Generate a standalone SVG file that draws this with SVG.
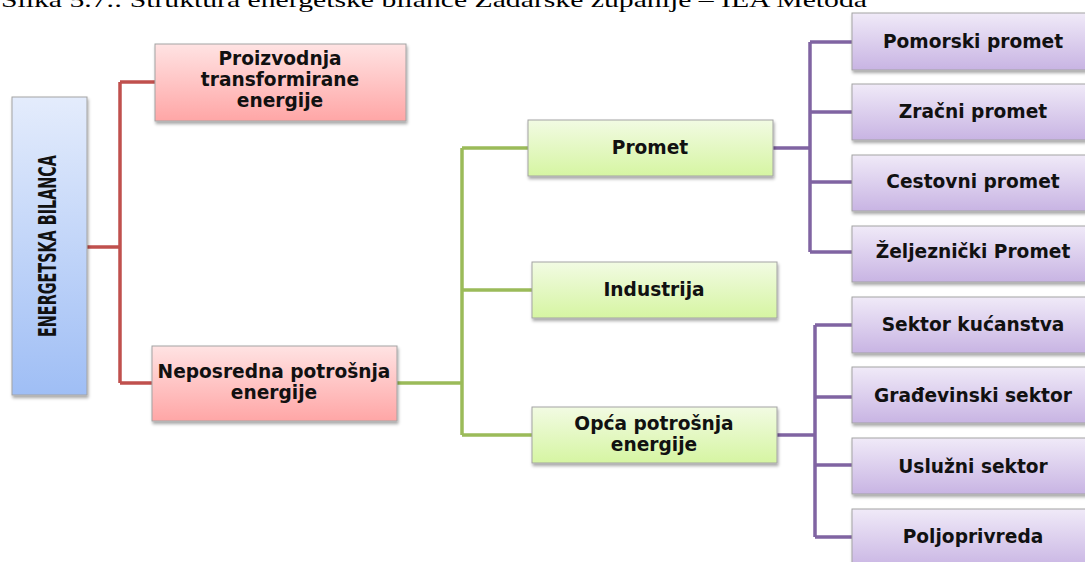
<svg xmlns="http://www.w3.org/2000/svg" width="1085" height="562" viewBox="0 0 1085 562">
<style>
.box{stroke:#a3a3a3;stroke-width:1;filter:url(#sh)}
.t{font-family:"DejaVu Sans","Verdana",sans-serif;font-weight:bold;font-size:18.6px;fill:#111;text-anchor:middle}
.red{fill:none;stroke:#c0504d;stroke-width:3.5}
.grn{fill:none;stroke:#9bbb59;stroke-width:3.5}
.pur{fill:none;stroke:#8064a2;stroke-width:3.5}
</style>
<defs>
<linearGradient id="gB" x1="0" y1="0" x2="0" y2="1"><stop offset="0" stop-color="#e4ecfc"/><stop offset="1" stop-color="#9fbef5"/></linearGradient>
<linearGradient id="gR" x1="0" y1="0" x2="0" y2="1"><stop offset="0" stop-color="#ffe3e3"/><stop offset="1" stop-color="#ffa6a6"/></linearGradient>
<linearGradient id="gG" x1="0" y1="0" x2="0" y2="1"><stop offset="0" stop-color="#f2fbe3"/><stop offset="1" stop-color="#d6f5a2"/></linearGradient>
<linearGradient id="gP" x1="0" y1="0" x2="0" y2="1"><stop offset="0" stop-color="#f0eaf8"/><stop offset="1" stop-color="#c8b4e3"/></linearGradient>
<filter id="sh" x="-10%" y="-10%" width="130%" height="140%"><feDropShadow dx="1" dy="2.5" stdDeviation="1.5" flood-color="#000" flood-opacity="0.35"/></filter>
</defs>
<rect width="1085" height="562" fill="#fff"/>
<text x="1" y="7" font-family="Liberation Serif,serif" font-size="22" fill="#000" textLength="866" lengthAdjust="spacingAndGlyphs">Slika 5.7.: Struktura energetske bilance Zadarske županije – IEA Metoda</text>
<g id="connectors">
<path class="red" d="M87 247H120M120 82V383M120 82H155M120 383H152"/>
<path class="grn" d="M397 383H462M462 148V435M462 148H528M462 290H532M462 435H532"/>
<path class="pur" d="M773 148H810M810 42V252M810 42H852M810 112H852M810 182H852M810 252H852"/>
<path class="pur" d="M777 435H815M815 325V537M815 325H852M815 397H852M815 465H852M815 537H852"/>
</g>
<g id="n-root"><rect class="box" x="12" y="97" width="75" height="298" fill="url(#gB)"/>
<text transform="translate(55.5,246) rotate(-90)" font-family="DejaVu Sans Condensed,DejaVu Sans,sans-serif" font-weight="bold" font-size="24" text-anchor="middle" textLength="182" lengthAdjust="spacingAndGlyphs" fill="#111">ENERGETSKA BILANCA</text></g>
<g id="n-proizvodnja"><rect class="box" x="155" y="44" width="251" height="77" fill="url(#gR)"/>
<text class="t" x="280" y="65">Proizvodnja</text><text class="t" x="280" y="86">transformirane</text><text class="t" x="280" y="107">energije</text></g>
<g id="n-neposredna"><rect class="box" x="152" y="346" width="245" height="75" fill="url(#gR)"/>
<text class="t" x="274" y="378">Neposredna potrošnja</text><text class="t" x="274" y="399">energije</text></g>
<g id="n-promet"><rect class="box" x="528" y="120" width="245" height="56" fill="url(#gG)"/>
<text class="t" x="650" y="154">Promet</text></g>
<g id="n-industrija"><rect class="box" x="532" y="262" width="245" height="56" fill="url(#gG)"/>
<text class="t" x="654" y="296">Industrija</text></g>
<g id="n-opca"><rect class="box" x="532" y="407" width="245" height="56" fill="url(#gG)"/>
<text class="t" x="654" y="430">Opća potrošnja</text><text class="t" x="654" y="451">energije</text></g>
<g id="n-pomorski"><rect class="box" x="852" y="13" width="240" height="57" fill="url(#gP)"/><text class="t" x="973" y="48">Pomorski promet</text></g>
<g id="n-zracni"><rect class="box" x="852" y="84" width="240" height="56" fill="url(#gP)"/><text class="t" x="973" y="118">Zračni promet</text></g>
<g id="n-cestovni"><rect class="box" x="852" y="155" width="240" height="56" fill="url(#gP)"/><text class="t" x="973" y="188">Cestovni promet</text></g>
<g id="n-zeljeznicki"><rect class="box" x="852" y="226" width="240" height="56" fill="url(#gP)"/><text class="t" x="973" y="258">Željeznički Promet</text></g>
<g id="n-kucanstva"><rect class="box" x="852" y="297" width="240" height="56" fill="url(#gP)"/><text class="t" x="973" y="331">Sektor kućanstva</text></g>
<g id="n-gradevinski"><rect class="box" x="852" y="367" width="240" height="56" fill="url(#gP)"/><text class="t" x="973" y="402">Građevinski sektor</text></g>
<g id="n-usluzni"><rect class="box" x="852" y="438" width="240" height="56" fill="url(#gP)"/><text class="t" x="973" y="473">Uslužni sektor</text></g>
<g id="n-poljoprivreda"><rect class="box" x="852" y="509" width="240" height="60" fill="url(#gP)"/><text class="t" x="973" y="543">Poljoprivreda</text></g>
</svg>
